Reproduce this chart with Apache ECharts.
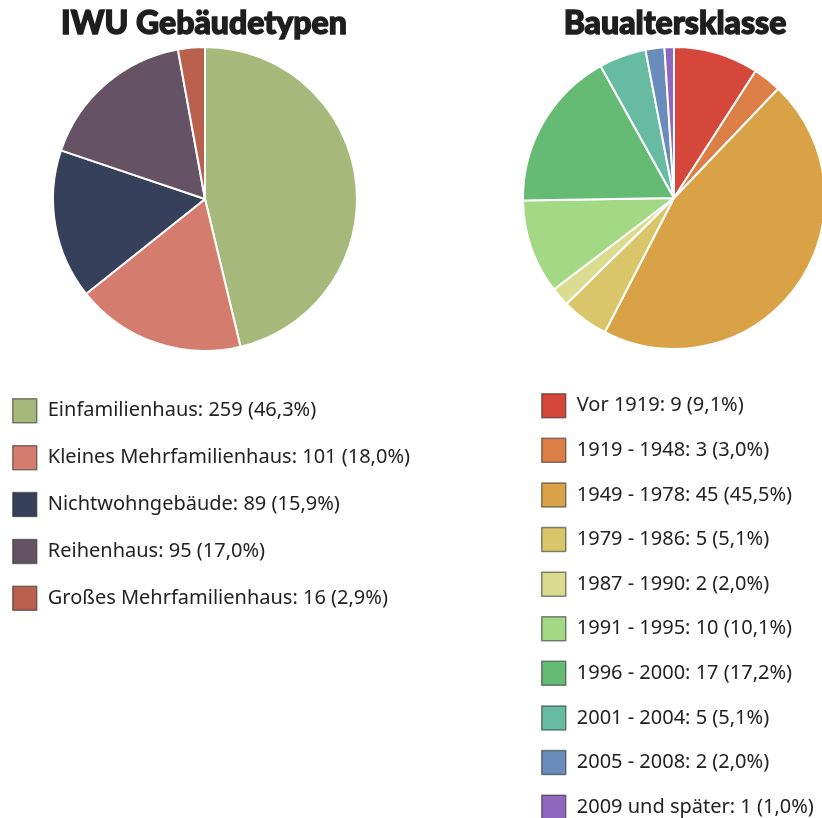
<!DOCTYPE html>
<html>
<head>
<meta charset="utf-8">
<script src="https://cdn.jsdelivr.net/npm/echarts@6/dist/echarts.min.js"></script>
<style>
html, body { margin: 0; padding: 0; background: #fff; }
#main { width: 822px; height: 818px; }
</style>
</head>
<body>
<div id="main"></div>
<script>
var typNamen = ['Einfamilienhaus', 'Kleines Mehrfamilienhaus', 'Nichtwohngebäude', 'Reihenhaus', 'Großes Mehrfamilienhaus'];
var typWerte = [259, 101, 89, 95, 16];
var typFarben = ['#a6b97a', '#d47c6e', '#36405a', '#655264', '#b9614d'];

var alterNamen = ['Vor 1919', '1919 - 1948', '1949 - 1978', '1979 - 1986', '1987 - 1990', '1991 - 1995', '1996 - 2000', '2001 - 2004', '2005 - 2008', '2009 und später'];
var alterWerte = [9, 3, 45, 5, 2, 10, 17, 5, 2, 1];
var alterFarben = ['#d5473a', '#dc7f47', '#d9a247', '#d9c56a', '#dcdc90', '#a3d984', '#66bb74', '#66bba0', '#6a8cbd', '#8f67bf'];

var TITEL_FONT = 'Lato, "Noto Sans", sans-serif';
var FONT = '"Noto Sans", "Open Sans", sans-serif';

function toData(namen, werte, farben) {
    return namen.map(function (n, i) {
        return { name: n, value: werte[i], itemStyle: { color: farben[i] } };
    });
}

function legendFormat(namen, werte) {
    var sum = werte.reduce(function (a, b) { return a + b; }, 0);
    return function (name) {
        var v = werte[namen.indexOf(name)];
        var p = (v / sum * 100).toFixed(1).replace('.', ',');
        return name + ': ' + v + ' (' + p + '%)';
    };
}

var chart = echarts.init(document.getElementById('main'));

var legendBase = {
    orient: 'vertical',
    icon: 'rect',
    padding: 0,
    height: 440,
    itemWidth: 24,
    itemHeight: 24,
    selectedMode: false,
    itemStyle: { borderColor: 'rgba(40,40,40,0.55)', borderWidth: 1.5 },
    textStyle: { fontFamily: FONT, fontSize: 20, lineHeight: 22, color: '#222', padding: [0, 0, 0, 6] }
};

var titelStyle = {
    fontFamily: TITEL_FONT, fontSize: 32, fontWeight: 900, color: '#1e1e1e',
    textBorderColor: '#1e1e1e', textBorderWidth: 1.4
};

var option = {
    animation: false,
    title: [
        { text: 'IWU Gebäudetypen', left: 199, top: 3, textAlign: 'center', textStyle: titelStyle },
        { text: 'Baualtersklasse', left: 670, top: 3, textAlign: 'center', textStyle: titelStyle }
    ],
    legend: [
        Object.assign({}, legendBase, {
            left: 12, top: 398, itemGap: 21.4,
            data: typNamen,
            formatter: legendFormat(typNamen, typWerte)
        }),
        Object.assign({}, legendBase, {
            left: 541, top: 393, itemGap: 19.1,
            data: alterNamen,
            formatter: legendFormat(alterNamen, alterWerte)
        })
    ],
    series: [
        {
            type: 'pie',
            center: [205, 199],
            radius: 152,
            startAngle: 90,
            label: { show: false },
            labelLine: { show: false },
            silent: true,
            itemStyle: { borderColor: '#fff', borderWidth: 2 },
            data: toData(typNamen, typWerte, typFarben)
        },
        {
            type: 'pie',
            center: [674, 198],
            radius: 151,
            startAngle: 90,
            label: { show: false },
            labelLine: { show: false },
            silent: true,
            itemStyle: { borderColor: '#fff', borderWidth: 2 },
            data: toData(alterNamen, alterWerte, alterFarben)
        }
    ]
};

chart.setOption(option);
</script>
</body>
</html>
